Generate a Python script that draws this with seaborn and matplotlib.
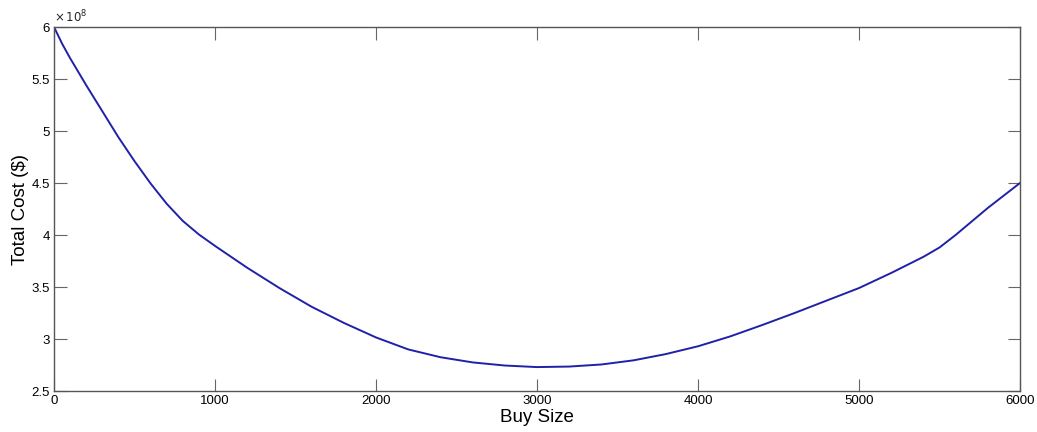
import numpy as np
import pandas as pd
import matplotlib
matplotlib.use("Agg")
import matplotlib.pyplot as plt
from matplotlib.ticker import FuncFormatter, MultipleLocator
import seaborn as sns

# Total cost (in units of 1e8 $) against buy size
buy_size = [0, 50, 100, 200, 300, 400, 500, 600, 700, 800, 900, 1000, 1200,
            1400, 1600, 1800, 2000, 2200, 2400, 2600, 2800, 3000, 3200, 3400,
            3600, 3800, 4000, 4200, 4400, 4600, 4800, 5000, 5200, 5400, 5500,
            5600, 5800, 6000]
total_cost_e8 = [6.00, 5.84, 5.70, 5.44, 5.19, 4.94, 4.71, 4.495, 4.30, 4.135,
                 4.005, 3.895, 3.685, 3.49, 3.31, 3.155, 3.015, 2.90, 2.825,
                 2.775, 2.745, 2.73, 2.735, 2.755, 2.795, 2.855, 2.93, 3.025,
                 3.135, 3.25, 3.37, 3.49, 3.635, 3.79, 3.88, 4.00, 4.26, 4.50]

df = pd.DataFrame({"buy": buy_size, "cost": np.array(total_cost_e8) * 1e8})

sns.set_style("ticks")
plt.rcParams['font.family'] = ['Liberation Sans', 'DejaVu Sans']

fig = plt.figure(figsize=(10.37, 4.32), dpi=100)
ax = fig.add_axes([0.0521, 0.0949, 0.9315, 0.8426])

sns.lineplot(data=df, x="buy", y="cost", ax=ax, color="#2020a8", linewidth=1.4)

ax.set_xlim(0, 6000)
ax.set_ylim(2.5e8, 6e8)
ax.xaxis.set_major_locator(MultipleLocator(1000))
ax.yaxis.set_major_locator(MultipleLocator(0.5e8))
ax.yaxis.set_major_formatter(FuncFormatter(lambda v, p: f"{v / 1e8:g}"))

for s in ax.spines.values():
    s.set_visible(True)
    s.set_color("#555555")
    s.set_linewidth(1.0)

ax.tick_params(direction="in", length=9, width=0.8, color="#666666",
               labelsize=9.5, labelcolor="black", top=True, right=True, pad=3)

ax.set_xlabel("Buy Size", fontsize=13.5, labelpad=1, color="black")
ax.set_ylabel("Total Cost ($)", fontsize=13.5, labelpad=2, color="black")
ax.text(0.0, 1.005, r"$\times\,10^{8}$", transform=ax.transAxes,
        fontsize=8.5, ha="left", va="bottom")

plt.savefig("out.png", dpi=100)
plt.close()
